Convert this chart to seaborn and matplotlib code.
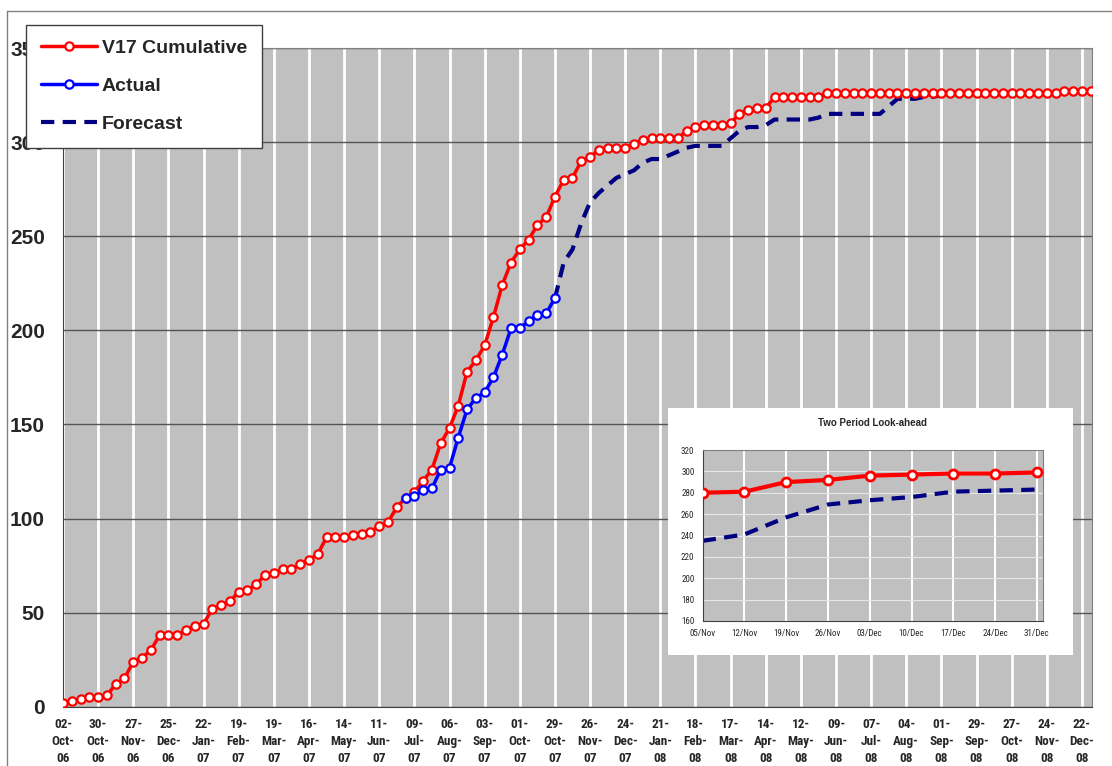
import pandas as pd
import matplotlib
matplotlib.use('Agg')
import matplotlib.pyplot as plt
import seaborn as sns
from matplotlib import font_manager
from matplotlib.lines import Line2D
from matplotlib.patches import Rectangle

# weekly values, first week 02-Oct-06
start_date = '2006-10-02'
v17_cumulative = [2, 3, 4, 5, 5, 6, 12, 15, 24, 26, 30, 38, 38, 38, 41, 43, 44, 52, 54, 56,
                  61, 62, 65, 70, 71, 73, 73, 76, 78, 81, 90, 90, 90, 91, 92, 93, 96, 98, 106, 111,
                  114, 120, 126, 140, 148, 160, 178, 184, 192, 207, 224, 236, 243, 248, 256, 260, 271, 280, 281, 290,
                  292, 296, 297, 297, 297, 299, 301, 302, 302, 302, 302, 306, 308, 309, 309, 309, 310, 315, 317, 318,
                  318] + [324] * 6 + [326] * 27 + [327] * 4
actual_start = 39
actual = [111, 112, 115, 116, 126, 127, 143, 158, 164, 167, 175, 187, 201, 201, 205, 208, 209, 217]
forecast_start = 56
forecast = [217, 236, 243, 257, 268, 273, 277, 281, 283, 285, 289, 291, 291, 293, 295, 297, 298, 298,
            298, 298, 302, 306, 308, 308, 309, 312, 312, 312, 312, 312, 313, 315, 315, 315, 315, 315,
            315, 315, 319, 323, 323, 323, 324, 324, 325]

inset_labels = ['05/Nov', '12/Nov', '19/Nov', '26/Nov', '03/Dec', '10/Dec', '17/Dec', '24/Dec', '31/Dec']
inset_v17 = [280, 281, 290, 292, 296, 297, 298, 298, 299]
inset_forecast = [235, 241, 257, 269, 273, 276, 281, 282, 283]

weeks = pd.date_range(start_date, periods=len(v17_cumulative), freq='7D')
act_weeks = weeks[actual_start:actual_start + len(actual)]
fc_weeks = weeks[forecast_start:forecast_start + len(forecast)]

sns.set_style('white')
plt.rcParams['font.family'] = ['Liberation Sans', 'DejaVu Sans']
installed = {f.name for f in font_manager.fontManager.ttflist}
narrow = [n for n in ['Liberation Sans Narrow', 'Roboto Condensed', 'DejaVu Sans Condensed']
          if n in installed] + ['Liberation Sans']

W, H = 1112, 766
fig = plt.figure(figsize=(W / 100, H / 100), dpi=100)
ax = fig.add_axes([63 / W, 1 - 706.7 / H, (1092 - 63) / W, (706.7 - 48) / H])
ax.set_facecolor('#c0c0c0')

sns.lineplot(x=fc_weeks, y=forecast, ax=ax, color='#000080', lw=3,
             linestyle=(0, (3.2, 2)), label='Forecast', zorder=2)
sns.lineplot(x=weeks, y=v17_cumulative, ax=ax, color='#ff0000', lw=2.5, marker='o',
             markersize=6, markerfacecolor='white', markeredgecolor='#ff0000',
             markeredgewidth=1.6, label='V17 Cumulative', zorder=3)
sns.lineplot(x=act_weeks, y=actual, ax=ax, color='#0000ff', lw=2.5, marker='o',
             markersize=6, markerfacecolor='white', markeredgecolor='#0000ff',
             markeredgewidth=1.6, label='Actual', zorder=4)

tick_dates = weeks[::4]
ax.set_xticks(tick_dates)
ax.set_xticklabels([d.strftime('%d-\n%b-\n%y') for d in tick_dates], family=narrow,
                   weight='bold', fontsize=9.5, linespacing=1.4)
ax.set_xlim(weeks[0], weeks[-1] + pd.Timedelta(days=1))
ax.set_ylim(0, 350)
ax.set_yticks(range(0, 351, 50))
ax.set_yticklabels([str(v) for v in range(0, 351, 50)], weight='bold', fontsize=15)
ax.set_xlabel('')
ax.set_ylabel('')
ax.set_axisbelow(True)
ax.grid(axis='x', color='white', lw=2)
ax.grid(axis='y', color='#555555', lw=1)
ax.tick_params(axis='y', direction='out', length=6, width=1, color='#404040', pad=7)
ax.tick_params(axis='x', direction='out', length=5, width=1, color='#404040', pad=3)
for side in ['left', 'bottom']:
    ax.spines[side].set_color('#404040')
for side in ['top', 'right']:
    ax.spines[side].set_color('#808080')

handles, labels = ax.get_legend_handles_labels()
order = [labels.index(n) for n in ['V17 Cumulative', 'Actual', 'Forecast']]
leg = ax.legend([handles[i] for i in order], [labels[i] for i in order], loc='upper left',
                bbox_to_anchor=(26 / W, 1 - 25 / H), bbox_transform=fig.transFigure,
                frameon=True, fancybox=False, edgecolor='#404040', framealpha=1,
                prop=dict(weight='bold', size=14), handlelength=2.9, handletextpad=0.25,
                labelspacing=1.05, borderpad=0.75, borderaxespad=0, numpoints=1)
leg.get_frame().set_linewidth(1)

# inset chart on a white panel
fig.add_artist(Rectangle((668 / W, 1 - 655 / H), 405 / W, 247 / H, transform=fig.transFigure,
                         facecolor='white', edgecolor='none', zorder=1))
axin = fig.add_axes([702.7 / W, 1 - 621 / H, 340 / W, 171 / H])
axin.set_zorder(2)
axin.set_facecolor('#c0c0c0')
pos = list(range(len(inset_labels)))
sns.lineplot(x=pos, y=inset_forecast, ax=axin, color='#000080', lw=3,
             linestyle=(0, (3.2, 2)), zorder=2)
sns.lineplot(x=pos, y=inset_v17, ax=axin, color='#ff0000', lw=3, marker='o', markersize=6.5,
             markerfacecolor='white', markeredgecolor='#ff0000', markeredgewidth=2, zorder=3)
axin.set_xlim(0, 8.14)
axin.set_ylim(160, 320)
axin.set_xticks(pos)
axin.set_xticklabels(inset_labels, family=narrow, fontsize=6.5)
axin.set_yticks(range(160, 321, 20))
axin.set_yticklabels([str(v) for v in range(160, 321, 20)], family=narrow, fontsize=6.5)
axin.set_axisbelow(True)
axin.grid(axis='x', color='white', lw=1.5)
axin.grid(axis='y', color='#e6e6e6', lw=0.8)
axin.tick_params(direction='out', length=3, width=0.8, color='#404040', pad=3)
for side in ['left', 'bottom']:
    axin.spines[side].set_color('#404040')
for side in ['top', 'right']:
    axin.spines[side].set_color('#808080')
fig.text(872 / W, 1 - 423 / H, 'Two Period Look-ahead', ha='center', va='center',
         fontsize=7, weight='bold')

# outer chart border
fig.add_artist(Line2D([7 / W, 1], [1 - 11 / H, 1 - 11 / H], transform=fig.transFigure,
                      color='#808080', lw=1))
fig.add_artist(Line2D([7 / W, 7 / W], [0, 1 - 11 / H], transform=fig.transFigure,
                      color='#808080', lw=1))

fig.savefig('out.png', dpi=100)
